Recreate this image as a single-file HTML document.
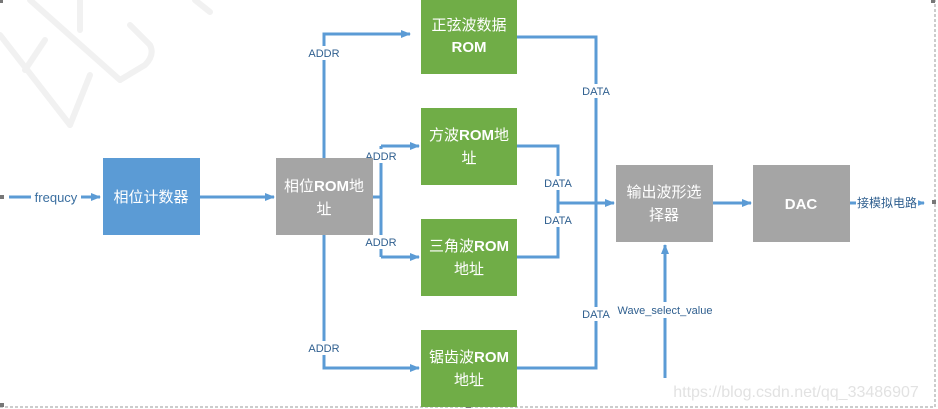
<!DOCTYPE html>
<html><head><meta charset="utf-8"><style>
html,body{margin:0;padding:0;background:#fff;}
svg{display:block;}
text{font-family:"Liberation Sans","Noto Sans CJK SC",sans-serif;}
</style></head><body>
<svg width="938" height="409" viewBox="0 0 938 409" xmlns="http://www.w3.org/2000/svg">
<defs>
<marker id="a" markerWidth="10" markerHeight="8" refX="9" refY="4" orient="auto" markerUnits="userSpaceOnUse">
<path d="M0,0 L10,4 L0,8 z" fill="#5b9bd5"/></marker>
</defs>
<g stroke="#f1f1f1" stroke-width="6" fill="none" stroke-linecap="round">
<path d="M0,35 L70,125"/><path d="M30,0 L120,80"/><path d="M80,0 L80,30"/><path d="M45,40 L25,70"/>
<path d="M130,25 L150,45 Q155,55 145,65 L120,80"/><path d="M90,75 L70,125"/><path d="M195,0 L210,12"/>
</g>
<path d="M0,407 H935 V0" fill="none" stroke="#999" stroke-width="1" stroke-dasharray="3,2"/>
<rect x="0" y="195" width="4" height="4" fill="#777"/>
<rect x="932" y="200" width="4" height="4" fill="#777"/>
<rect x="931" y="0" width="4" height="3" fill="#777"/>
<rect x="0" y="0" width="3" height="3" fill="#777"/>
<rect x="466" y="0" width="5" height="2" fill="#777"/>
<rect x="466" y="404" width="5" height="4" fill="#777"/>
<rect x="0" y="403" width="4" height="4" fill="#777"/>

<g stroke="#5b9bd5" stroke-width="3" fill="none">
<path d="M9,197 H100" marker-end="url(#a)"/>
<path d="M200,197 H274" marker-end="url(#a)"/>
<path d="M324,158 V34 H410" marker-end="url(#a)"/>
<path d="M324,235 V368 H419" marker-end="url(#a)"/>
<path d="M372,197 H381"/>
<path d="M381,146 V257"/>
<path d="M381,146 H419" marker-end="url(#a)"/>
<path d="M381,257 H419" marker-end="url(#a)"/>
<path d="M517,37 H596 V368 H517"/>
<path d="M517,146 H558 V257 H517"/>
<path d="M558,203 H614" marker-end="url(#a)"/>
<path d="M665,378 V245" marker-end="url(#a)"/>
<path d="M713,203 H751" marker-end="url(#a)"/>
<path d="M850,203 H924" marker-end="url(#a)"/>
</g>
<g fill="#fff">
<rect x="31" y="189" width="50" height="16"/>
<rect x="306" y="46" width="36" height="14"/>
<rect x="306" y="341" width="36" height="14"/>
<rect x="364" y="149" width="34" height="14"/>
<rect x="364" y="235" width="34" height="14"/>
<rect x="578" y="84" width="36" height="14"/>
<rect x="578" y="307" width="36" height="14"/>
<rect x="541" y="176" width="36" height="14"/>
<rect x="541" y="213" width="36" height="14"/>
<rect x="612" y="302" width="106" height="16"/>
<rect x="856" y="195" width="62" height="16"/>
</g>
<g fill="#2f5f8f" font-size="11" text-anchor="middle">
<text x="56" y="202" font-size="13" fill="#3b6fa0">frequcy</text>
<text x="324" y="57">ADDR</text>
<text x="324" y="352">ADDR</text>
<text x="381" y="160">ADDR</text>
<text x="381" y="246">ADDR</text>
<text x="596" y="95">DATA</text>
<text x="596" y="318">DATA</text>
<text x="558" y="187">DATA</text>
<text x="558" y="224">DATA</text>
<text x="665" y="314">Wave_select_value</text>
<text x="887" y="207" font-size="12">接模拟电路</text>
</g>
<rect x="103" y="158" width="97" height="77" fill="#5b9bd5"/>
<rect x="276" y="158" width="97" height="77" fill="#a5a5a5"/>
<rect x="421" y="0" width="96" height="74" fill="#70ad47"/>
<rect x="421" y="108" width="96" height="77" fill="#70ad47"/>
<rect x="421" y="219" width="96" height="77" fill="#70ad47"/>
<rect x="421" y="330" width="96" height="77" fill="#70ad47"/>
<rect x="616" y="165" width="97" height="77" fill="#a5a5a5"/>
<rect x="753" y="165" width="97" height="77" fill="#a5a5a5"/>
<g fill="#fff" font-size="15" text-anchor="middle">
<text x="151" y="202">相位计数器</text>
<text x="324" y="191">相位<tspan font-weight="bold">ROM</tspan>地</text>
<text x="324" y="214">址</text>
<text x="469" y="30">正弦波数据</text>
<text x="469" y="52" font-weight="bold">ROM</text>
<text x="469" y="140">方波<tspan font-weight="bold">ROM</tspan>地</text>
<text x="469" y="163">址</text>
<text x="469" y="251">三角波<tspan font-weight="bold">ROM</tspan></text>
<text x="469" y="274">地址</text>
<text x="469" y="362">锯齿波<tspan font-weight="bold">ROM</tspan></text>
<text x="469" y="385">地址</text>
<text x="664" y="197">输出波形选</text>
<text x="664" y="220">择器</text>
<text x="801" y="209" font-weight="bold">DAC</text>
</g>
<text x="796" y="397" font-size="16" fill="#e2e2e2" text-anchor="middle">https://blog.csdn.net/qq_33486907</text>
</svg>
</body></html>
